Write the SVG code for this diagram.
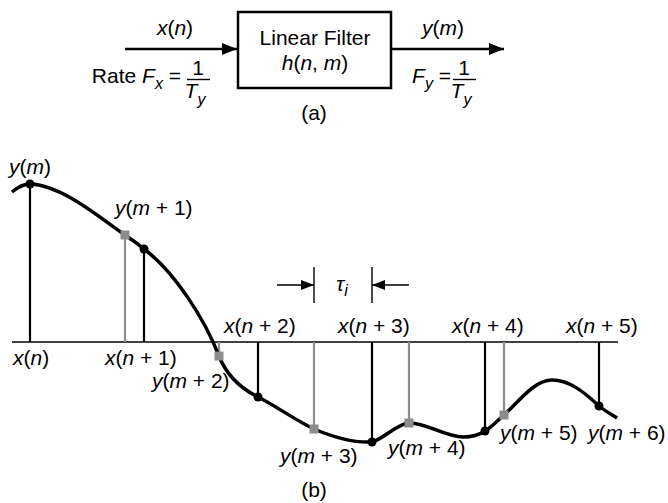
<svg xmlns="http://www.w3.org/2000/svg" width="668" height="503" viewBox="0 0 668 503">
<style>
text{font-family:"Liberation Sans",Arial,sans-serif;font-size:21px;fill:#000}
.i{font-style:italic}
.s{font-size:16px}
.blk{stroke:#000;stroke-width:2.2;fill:none}
.gry{stroke:#8c8c8c;stroke-width:2.2;fill:none}
.ln{stroke:#000;stroke-width:2.5;fill:none}
.thin{stroke:#000;stroke-width:1.4;fill:none}
.sq{fill:#8c8c8c}
.dot{fill:#000}
</style>
<defs>
<marker id="ah" markerWidth="16" markerHeight="12" refX="15" refY="6" orient="auto" markerUnits="userSpaceOnUse">
<path d="M0,0 L15,6 L0,12 z" fill="#000"/>
</marker>
<marker id="ah2" markerWidth="13" markerHeight="10" refX="13" refY="5" orient="auto" markerUnits="userSpaceOnUse">
<path d="M0,0 L13,5 L0,10 z" fill="#000"/>
</marker>
</defs>

<g id="connectors">
<line class="ln" x1="125" y1="49" x2="237" y2="49" marker-end="url(#ah)"/>
<line class="ln" x1="391" y1="49" x2="504" y2="49" marker-end="url(#ah)"/>
</g>

<g id="input-label">
<text x="175" y="35" text-anchor="middle"><tspan class="i">x</tspan>(<tspan class="i">n</tspan>)</text>
<text x="181" y="83" text-anchor="end">Rate <tspan class="i">F</tspan><tspan class="i s" dy="6">x</tspan><tspan dy="-6"> =</tspan></text>
<text x="198" y="75" text-anchor="middle">1</text>
<line class="thin" x1="187" y1="79.5" x2="210" y2="79.5"/>
<text x="195" y="98" text-anchor="middle"><tspan class="i">T</tspan><tspan class="i s" dy="7">y</tspan></text>
</g>

<g id="filter">
<rect x="238" y="12" width="153" height="76" fill="#fff" stroke="#000" stroke-width="2.5"/>
<text x="315" y="45" text-anchor="middle">Linear Filter</text>
<text x="315" y="70" text-anchor="middle"><tspan class="i">h</tspan>(<tspan class="i">n</tspan>, <tspan class="i">m</tspan>)</text>
<text x="314" y="120" text-anchor="middle">(a)</text>
</g>

<g id="output-label">
<text x="443" y="35" text-anchor="middle"><tspan class="i">y</tspan>(<tspan class="i">m</tspan>)</text>
<text x="451" y="83" text-anchor="end"><tspan class="i">F</tspan><tspan class="i s" dy="6">y</tspan><tspan dy="-6"> =</tspan></text>
<text x="464" y="75" text-anchor="middle">1</text>
<line class="thin" x1="453" y1="79.5" x2="476" y2="79.5"/>
<text x="461" y="98" text-anchor="middle"><tspan class="i">T</tspan><tspan class="i s" dy="7">y</tspan></text>
</g>

<g id="plot">
<line class="thin" x1="12" y1="342" x2="618" y2="342"/>
<line class="blk" x1="30" y1="184" x2="30" y2="342"/>
<line class="gry" x1="125" y1="235" x2="125" y2="342"/>
<line class="blk" x1="144" y1="249" x2="144" y2="342"/>
<line class="gry" x1="219" y1="342" x2="219" y2="356"/>
<line class="blk" x1="258" y1="342" x2="258" y2="397"/>
<line class="gry" x1="314" y1="342" x2="314" y2="429"/>
<line class="blk" x1="372" y1="342" x2="372" y2="442"/>
<line class="gry" x1="409" y1="342" x2="409" y2="423"/>
<line class="blk" x1="485" y1="342" x2="485" y2="431"/>
<line class="gry" x1="504" y1="342" x2="504" y2="415"/>
<line class="blk" x1="599" y1="342" x2="599" y2="406"/>
<path stroke="#000" stroke-width="3.5" fill="none" d="M12,192 C18,187 24,184 30,184 C62,185 100,218 125,235 C131,239 138,244 144,249 C175,272 205,320 219,356 C226,374 240,388 258,397 C276,406 295,420 314,429 C333,437 355,443 372,442 C384,439 396,424 409,423 C425,422 445,437 463,437 C472,437 479,435 485,431 C492,427 498,420 504,415 C520,400 535,380 552,380 C570,380 585,393 599,406 C605,411 611,414 617,418"/>
<circle class="dot" cx="30" cy="184" r="4.5"/>
<circle class="dot" cx="144" cy="249" r="4.5"/>
<circle class="dot" cx="258" cy="397" r="4.5"/>
<circle class="dot" cx="372" cy="442" r="4.5"/>
<circle class="dot" cx="485" cy="431" r="4.5"/>
<circle class="dot" cx="599" cy="406" r="4.5"/>
<rect class="sq" x="120.5" y="230.5" width="9" height="9"/>
<rect class="sq" x="214.5" y="351.5" width="9" height="9"/>
<rect class="sq" x="309.5" y="424.5" width="9" height="9"/>
<rect class="sq" x="404.5" y="418.5" width="9" height="9"/>
<rect class="sq" x="499.5" y="410.5" width="9" height="9"/>

<line class="thin" x1="314" y1="267" x2="314" y2="303"/>
<line class="thin" x1="372" y1="267" x2="372" y2="303"/>
<line class="thin" x1="277" y1="285" x2="314" y2="285" marker-end="url(#ah2)"/>
<line class="thin" x1="409" y1="285" x2="372" y2="285" marker-end="url(#ah2)"/>
<text x="342" y="291" text-anchor="middle"><tspan class="i">τ</tspan><tspan class="i s" dy="5">i</tspan></text>

<text x="9" y="174"><tspan class="i">y</tspan>(<tspan class="i">m</tspan>)</text>
<text x="115" y="215"><tspan class="i">y</tspan>(<tspan class="i">m</tspan> + 1)</text>
<text x="13" y="365"><tspan class="i">x</tspan>(<tspan class="i">n</tspan>)</text>
<text x="105" y="365"><tspan class="i">x</tspan>(<tspan class="i">n</tspan> + 1)</text>
<text x="152" y="388"><tspan class="i">y</tspan>(<tspan class="i">m</tspan> + 2)</text>
<text x="224" y="333"><tspan class="i">x</tspan>(<tspan class="i">n</tspan> + 2)</text>
<text x="338" y="333"><tspan class="i">x</tspan>(<tspan class="i">n</tspan> + 3)</text>
<text x="452" y="333"><tspan class="i">x</tspan>(<tspan class="i">n</tspan> + 4)</text>
<text x="566" y="333"><tspan class="i">x</tspan>(<tspan class="i">n</tspan> + 5)</text>
<text x="280" y="463"><tspan class="i">y</tspan>(<tspan class="i">m</tspan> + 3)</text>
<text x="388" y="455"><tspan class="i">y</tspan>(<tspan class="i">m</tspan> + 4)</text>
<text x="500" y="440"><tspan class="i">y</tspan>(<tspan class="i">m</tspan> + 5)</text>
<text x="588" y="440"><tspan class="i">y</tspan>(<tspan class="i">m</tspan> + 6)</text>
<text x="314" y="497" text-anchor="middle">(b)</text>
</g>
</svg>
